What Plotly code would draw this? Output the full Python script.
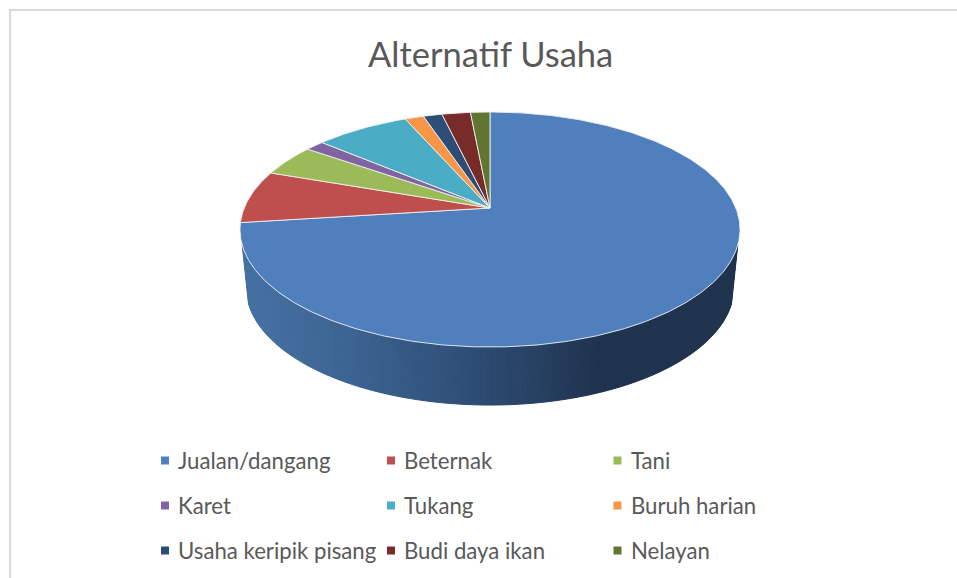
import numpy as np
import plotly.graph_objects as go

title = "Alternatif Usaha"
categories = ["Jualan/dangang", "Beternak", "Tani", "Karet", "Tukang",
              "Buruh harian", "Usaha keripik pisang", "Budi daya ikan", "Nelayan"]
values = [73.0, 7.3, 4.4, 1.45, 7.25, 1.45, 1.45, 2.2, 1.5]
colors = ["#4F7FBC", "#BE4F4C", "#9BBB59", "#8064A2", "#4BACC6",
          "#F79646", "#2C4D75", "#772C2A", "#5F7530"]

# projection of the tilted pie into the plot's coordinate system
CX, CY = 490.0, 208.0
A, B, K = 245.8, 113.6, 0.183
DEPTH = 58.0
SHRINK = 0.975


def rim(phi):
    u, v = np.sin(phi), np.cos(phi)
    w = 1 + K * v
    return CX + A * u / w, CY - B * v / w


fig = go.Figure()

# side wall: visible part of the first slice, shaded left to right
wall_x = [243, 350, 490, 600, 957]
wall_rgb = np.array([[69, 113, 162], [60, 99, 146], [43, 74, 112], [31, 51, 78], [31, 51, 78]])
phis = np.radians(np.linspace(98, 262, 165))
rx, ry = rim(phis)
mask = ry >= 245
rx, ry = rx[mask], ry[mask]
lx = CX + (rx - CX) * SHRINK
ly = ry + DEPTH
for i in range(len(rx) - 1):
    mid = (rx[i] + rx[i + 1]) / 2
    c = [int(round(np.interp(mid, wall_x, wall_rgb[:, j]))) for j in range(3)]
    col = f"rgb({c[0]},{c[1]},{c[2]})"
    fig.add_trace(go.Scatter(
        x=[rx[i], rx[i + 1], lx[i + 1], lx[i], rx[i]],
        y=[ry[i], ry[i + 1], ly[i + 1], ly[i], ry[i]],
        mode="lines", fill="toself", fillcolor=col,
        line=dict(color=col, width=1), hoverinfo="skip", showlegend=False))

# top faces
total = sum(values)
start = 0.0
for name, val, col in zip(categories, values, colors):
    end = start + val / total * 2 * np.pi
    t = np.linspace(start, end, max(4, int(val * 6)))
    x, y = rim(t)
    fig.add_trace(go.Scatter(
        x=np.r_[CX, x, CX], y=np.r_[CY, y, CY],
        mode="lines", fill="toself", fillcolor=col,
        line=dict(color="rgba(240,240,240,0.9)", width=1),
        name=name, hoverinfo="name", showlegend=False))
    start = end

# legend grid
col_x = [165, 391, 617.5]
row_y = [460.5, 505.5, 550.5]
for i, (name, col) in enumerate(zip(categories, colors)):
    mx, my = col_x[i % 3], row_y[i // 3]
    fig.add_trace(go.Scatter(
        x=[mx], y=[my], mode="markers",
        marker=dict(symbol="square", size=8, color=col),
        hoverinfo="skip", showlegend=False))
    fig.add_annotation(x=mx + 11, y=my, text=name, showarrow=False,
                       xanchor="left", yanchor="middle", xref="x", yref="y",
                       font=dict(family="Lato", size=22.2, color="#595959"))

fig.add_annotation(x=490, y=53, text=title, showarrow=False, xanchor="center",
                   yanchor="middle", xref="x", yref="y",
                   font=dict(family="Lato", size=34.5, color="#595959"))

fig.add_shape(type="path", path="M 10 578 L 10 10 L 957 10", xref="x", yref="y",
              line=dict(color="#D9D9D9", width=2))

fig.update_layout(
    width=957, height=578, margin=dict(l=0, r=0, t=0, b=0),
    paper_bgcolor="white", plot_bgcolor="white", showlegend=False,
    xaxis=dict(range=[0, 957], visible=False, fixedrange=True),
    yaxis=dict(range=[578, 0], visible=False, fixedrange=True),
)
fig.write_html(
    "out.html",
    config={"displayModeBar": False},
    post_script=(
        "var s=document.createElement('style');"
        "s.textContent='html,body{margin:0;padding:0;overflow:hidden} "
        "svg text{font-variant-ligatures:none}';"
        "document.head.appendChild(s);"
    ),
)
